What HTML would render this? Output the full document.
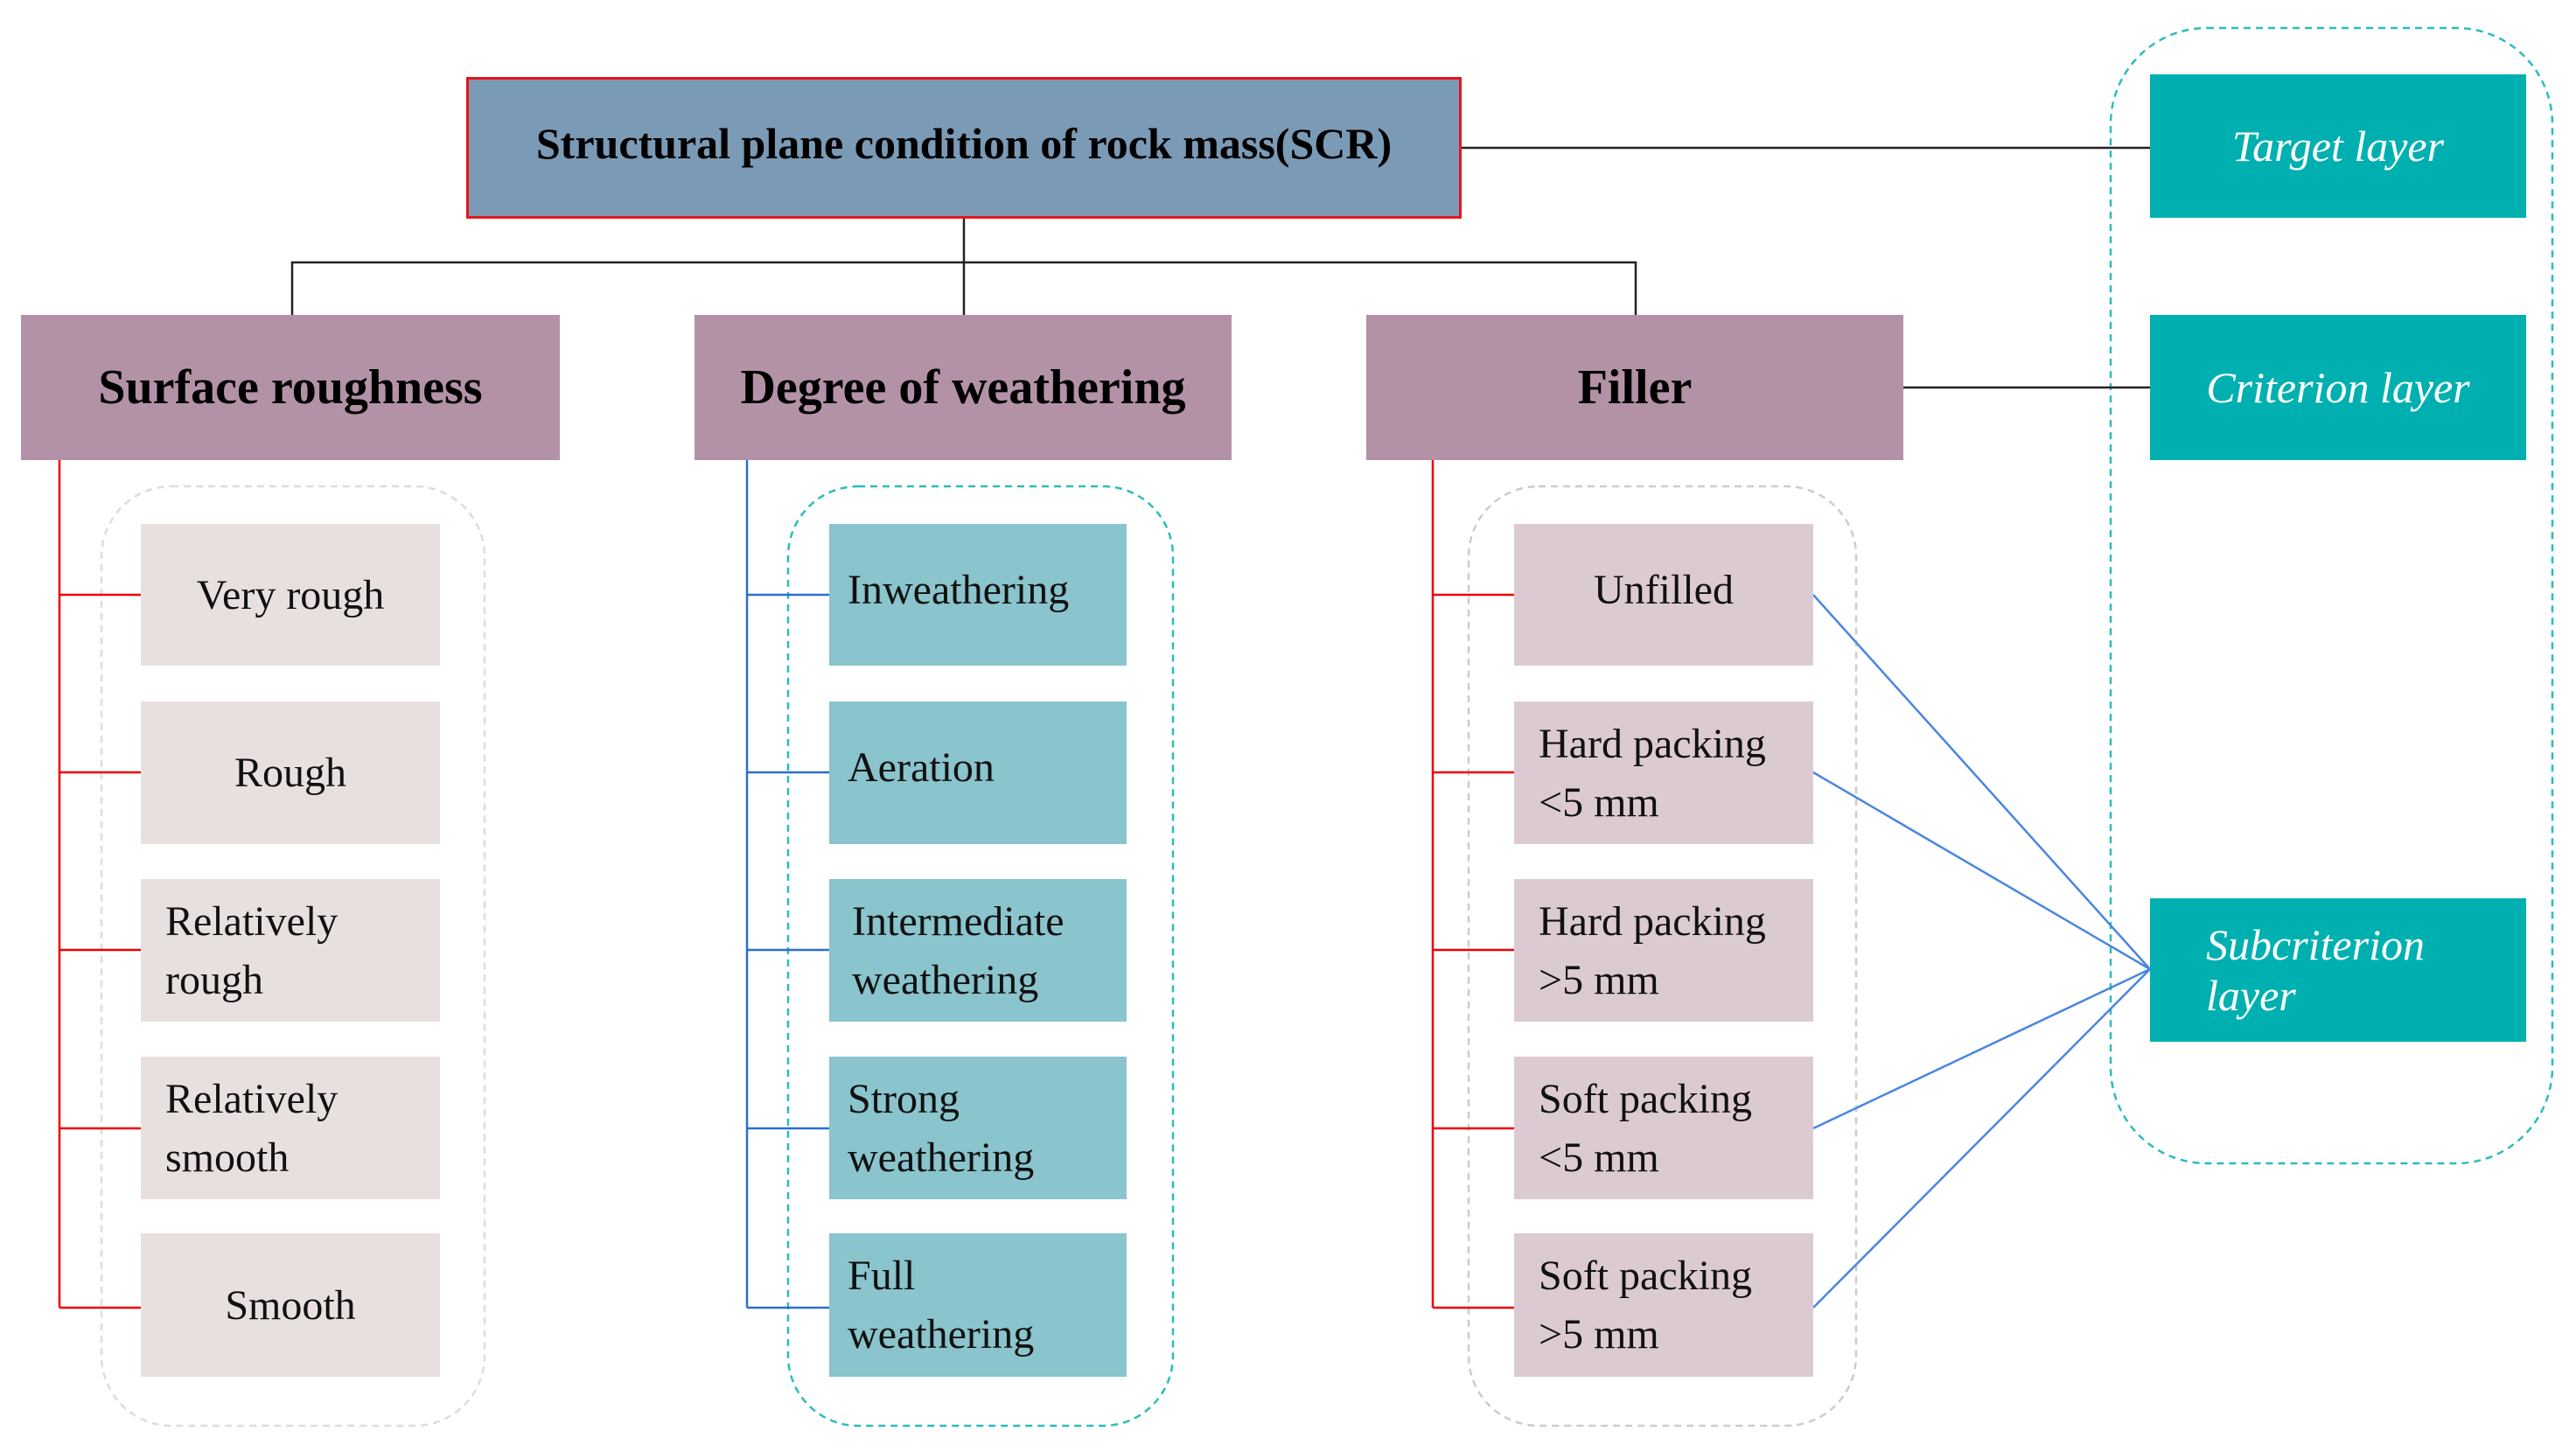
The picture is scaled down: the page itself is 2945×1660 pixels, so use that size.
<!DOCTYPE html>
<html><head><meta charset="utf-8"><style>
body{margin:0;width:2945px;height:1660px;background:#fff;position:relative;overflow:hidden;font-family:"Liberation Serif",serif}
.b{position:absolute;box-sizing:border-box;display:flex;align-items:center;justify-content:center;text-align:center}
.s{font-size:48px;line-height:67px;color:#111}
.l{justify-content:flex-start;text-align:left;padding-left:28px}
.c1{background:#e8e0df;left:161px;width:342px}
.c2{background:#8ac4cc;left:948px;width:340px}
.c3{background:#dccad3;left:1731px;width:342px}
.crit{background:#b392a8;top:360px;height:166px;font-weight:bold;font-size:56px;color:#000}
.lay{background:#00b0b0;left:2458px;width:430px;height:164px;color:#fff;font-style:italic;font-size:50px}
svg{position:absolute;left:0;top:0}
</style></head><body>
<svg width="2945" height="1660">
<g fill="none" stroke-dasharray="8,6" stroke-width="2.5">
<rect x="116" y="556" width="438" height="1074" rx="80" stroke="#ddd"/>
<rect x="901" y="556" width="440" height="1074" rx="80" stroke="#2bbcbc"/>
<rect x="1679" y="556" width="443" height="1074" rx="80" stroke="#ccc"/>
<rect x="2413" y="32" width="505" height="1298" rx="110" stroke="#2bbcbc"/>
</g>
<g stroke="#222" stroke-width="2.5" fill="none">
<line x1="1671" y1="169" x2="2458" y2="169"/>
<line x1="1102" y1="250" x2="1102" y2="360"/>
<polyline points="334,360 334,300 1870,300 1870,360"/>
<line x1="2176" y1="443" x2="2458" y2="443"/>
</g>
<g stroke="#e00" stroke-width="2.5" fill="none">
<line x1="68" y1="526" x2="68" y2="1495"/>
<line x1="68" y1="680" x2="161" y2="680"/><line x1="68" y1="883" x2="161" y2="883"/><line x1="68" y1="1086" x2="161" y2="1086"/><line x1="68" y1="1290" x2="161" y2="1290"/><line x1="68" y1="1495" x2="161" y2="1495"/>
<line x1="1638" y1="526" x2="1638" y2="1495"/>
<line x1="1638" y1="680" x2="1731" y2="680"/><line x1="1638" y1="883" x2="1731" y2="883"/><line x1="1638" y1="1086" x2="1731" y2="1086"/><line x1="1638" y1="1290" x2="1731" y2="1290"/><line x1="1638" y1="1495" x2="1731" y2="1495"/>
</g>
<g stroke="#2a6fd0" stroke-width="2.5" fill="none">
<line x1="854" y1="526" x2="854" y2="1495"/>
<line x1="854" y1="680" x2="948" y2="680"/><line x1="854" y1="883" x2="948" y2="883"/><line x1="854" y1="1086" x2="948" y2="1086"/><line x1="854" y1="1290" x2="948" y2="1290"/><line x1="854" y1="1495" x2="948" y2="1495"/>
</g>
<g stroke="#4a86e0" stroke-width="2.5">
<line x1="2073" y1="680" x2="2458" y2="1108"/><line x1="2073" y1="883" x2="2458" y2="1108"/><line x1="2073" y1="1290" x2="2458" y2="1108"/><line x1="2073" y1="1495" x2="2458" y2="1108"/>
</g>
</svg>
<div class="b" style="left:533px;top:88px;width:1138px;height:162px;background:#7b9ab5;border:3px solid #e8141c;font-weight:bold;font-size:50px;padding-bottom:10px">Structural plane condition of rock mass(SCR)</div>
<div class="b crit" style="left:24px;width:616px">Surface roughness</div>
<div class="b crit" style="left:794px;width:614px">Degree of weathering</div>
<div class="b crit" style="left:1562px;width:614px">Filler</div>
<div class="b lay" style="top:85px">Target layer</div>
<div class="b lay" style="top:360px;height:166px">Criterion layer</div>
<div class="b lay l" style="top:1027px;padding-left:64px">Subcriterion<br>layer</div>

<div class="b s c1" style="top:599px;height:162px">Very rough</div>
<div class="b s c1" style="top:802px;height:163px">Rough</div>
<div class="b s c1 l" style="top:1005px;height:163px;padding-left:28px">Relatively<br>rough</div>
<div class="b s c1 l" style="top:1208px;height:163px">Relatively<br>smooth</div>
<div class="b s c1" style="top:1410px;height:164px">Smooth</div>

<div class="b s c2 l" style="top:599px;height:162px;padding-left:21px;padding-bottom:12px">Inweathering</div>
<div class="b s c2 l" style="top:802px;height:163px;padding-left:21px;padding-bottom:12px">Aeration</div>
<div class="b s c2 l" style="top:1005px;height:163px;padding-left:26px">Intermediate<br>weathering</div>
<div class="b s c2 l" style="top:1208px;height:163px;padding-left:21px">Strong<br>weathering</div>
<div class="b s c2 l" style="top:1410px;height:164px;padding-left:21px">Full<br>weathering</div>

<div class="b s c3" style="top:599px;height:162px;padding-bottom:12px">Unfilled</div>
<div class="b s c3 l" style="top:802px;height:163px">Hard packing<br>&lt;5 mm</div>
<div class="b s c3 l" style="top:1005px;height:163px">Hard packing<br>&gt;5 mm</div>
<div class="b s c3 l" style="top:1208px;height:163px">Soft packing<br>&lt;5 mm</div>
<div class="b s c3 l" style="top:1410px;height:164px">Soft packing<br>&gt;5 mm</div>
</body></html>
